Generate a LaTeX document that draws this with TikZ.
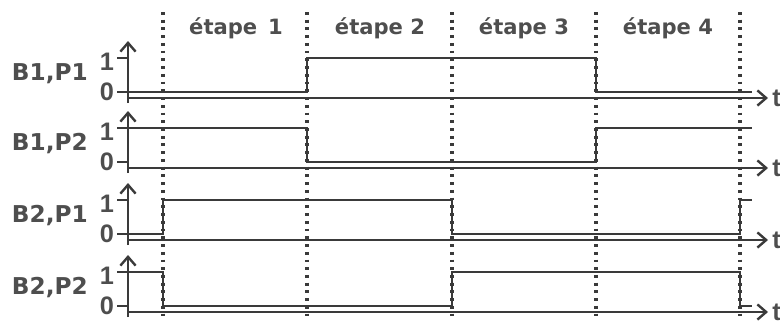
\documentclass[tikz,border=0pt]{standalone}
\usepackage{fontspec}
\setmainfont{DejaVu Sans}
\newfontfamily\digfont{Liberation Sans}
\usetikzlibrary{arrows.meta}
\definecolor{trait}{HTML}{3A3A3A}
\definecolor{texte}{HTML}{4E4E4E}

\begin{document}
\begin{tikzpicture}[x=0.025cm,y=-0.025cm]

% one unit = one pixel of the page
\useasboundingbox (0,0) rectangle (780,324);
% time axis of each chronogram
\def\ra{98}
\def\rb{168}
\def\rc{240}
\def\rd{312}
% style definitions
\tikzstyle{axe} = [draw=trait, line width=1.9pt,
	-{Straight Barb[length=0.22cm,width=0.38cm,line width=1.7pt]}];
\tikzstyle{sig} = [draw=trait, line width=1.9pt];
\tikzstyle{sep} = [draw=trait, line width=2.2pt, dash pattern=on 2pt off 3.5pt];
\tikzstyle{lbl} = [font=\bfseries\fontsize{16.5}{18}\selectfont, text=texte, inner sep=0pt];
\tikzstyle{etp} = [font=\bfseries\fontsize{15}{17}\selectfont, text=texte, inner sep=0pt];
\tikzstyle{dig} = [font=\digfont\bfseries\fontsize{18}{20}\selectfont, text=texte, inner sep=0pt];

% step separators
\foreach \x in {163,307,452,596,740}
	\draw[sep] (\x,12) -- (\x,318);

\node[etp] (e1) at (236,28) {étape\, 1};
\node[etp] (e2) at (380,28) {étape 2};
\node[etp] (e3) at (524,28) {étape 3};
\node[etp] (e4) at (668,28) {étape 4};

% axes, ticks and levels
\foreach \r/\n in {\ra/1,\rb/2,\rc/3,\rd/4} {
	\coordinate (o\n) at (128,\r);
	\coordinate (t\n) at (768,\r);
	\coordinate (b\n) at (128,\r+5);
	\coordinate (h\n) at (128,\r-57);
	\draw[axe] (b\n) -- (h\n);
	\draw[axe] (o\n) -- (t\n);
	\draw[sig] (117,\r-6) -- (128,\r-6);
	\draw[sig] (117,\r-40) -- (128,\r-40);
	\node[dig] (z\n) at (107,\r-6) {0};
	\node[dig] (u\n) at (107,\r-36) {1};
	\node[dig,anchor=west] (tt\n) at (772,\r) {t};
}

\node[lbl,anchor=east] (n1) at (88,\ra-24) {B1,P1};
\node[lbl,anchor=east] (n2) at (88,\rb-24) {B1,P2};
\node[lbl,anchor=east] (n3) at (88,\rc-24) {B2,P1};
\node[lbl,anchor=east] (n4) at (88,\rd-24) {B2,P2};

% signals
\draw[sig] (128,\ra-6) -- (307,\ra-6) -- (307,\ra-40) -- (596,\ra-40)
	-- (596,\ra-6) -- (752,\ra-6);
\draw[sig] (128,\rb-40) -- (307,\rb-40) -- (307,\rb-6) -- (596,\rb-6)
	-- (596,\rb-40) -- (752,\rb-40);
\draw[sig] (128,\rc-6) -- (163,\rc-6) -- (163,\rc-40) -- (452,\rc-40)
	-- (452,\rc-6) -- (740,\rc-6) -- (740,\rc-40) -- (752,\rc-40);
\draw[sig] (128,\rd-40) -- (163,\rd-40) -- (163,\rd-6) -- (452,\rd-6)
	-- (452,\rd-40) -- (740,\rd-40) -- (740,\rd-6) -- (752,\rd-6);

\end{tikzpicture}
\end{document}
